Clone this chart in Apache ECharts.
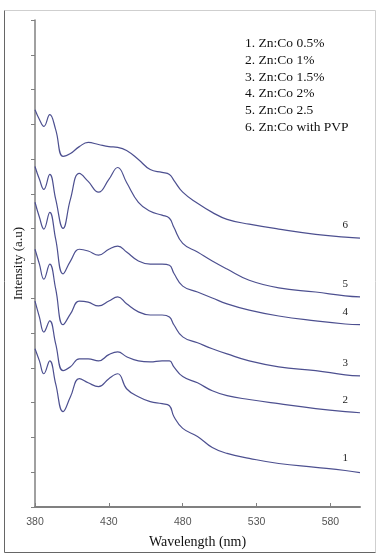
<!DOCTYPE html>
<html>
<head>
<meta charset="utf-8">
<script src="https://cdn.jsdelivr.net/npm/echarts@6/dist/echarts.min.js"></script>
<style>
  html, body { margin: 0; padding: 0; background: #fff; }
  #chart { width: 384px; height: 554px; }
</style>
</head>
<body>
<div id="chart"></div>
<script>
// wavelength grid (nm) shared by all spectra
const wavelength = [380, 383, 386, 390, 394, 399, 404, 410, 416, 423, 430, 436, 442, 450,
  458, 466, 471, 474, 480, 490, 500, 510, 525, 545, 570, 590, 600];

// intensity (a.u.), curves stacked with offsets
const curve1 = [4.55, 4.20, 3.83, 4.20, 3.54, 2.74, 3.17, 3.69, 3.57, 3.46, 3.69, 3.83, 3.40, 3.17,
  3.03, 2.97, 2.91, 2.60, 2.26, 2.03, 1.71, 1.54, 1.40, 1.25, 1.14, 1.05, 0.99];
const curve2 = [5.92, 5.46, 5.03, 5.35, 4.69, 3.92, 4.03, 4.26, 4.26, 4.20, 4.38, 4.46, 4.32, 4.20,
  4.17, 4.20, 4.20, 4.03, 3.75, 3.57, 3.34, 3.20, 3.09, 2.97, 2.83, 2.74, 2.71];
const curve3 = [7.41, 6.98, 6.55, 6.98, 6.27, 5.24, 5.55, 5.92, 5.89, 5.78, 5.92, 6.04, 5.84, 5.61,
  5.52, 5.52, 5.46, 5.24, 4.89, 4.72, 4.55, 4.40, 4.20, 4.03, 3.92, 3.80, 3.77];
const curve4 = [8.76, 8.33, 7.99, 8.47, 7.70, 6.70, 7.07, 7.41, 7.36, 7.24, 7.41, 7.50, 7.33, 7.07,
  6.98, 6.98, 6.95, 6.72, 6.35, 6.18, 6.01, 5.84, 5.66, 5.49, 5.35, 5.26, 5.24];
const curve5 = [9.79, 9.42, 9.13, 9.56, 8.85, 8.01, 8.85, 9.59, 9.36, 9.05, 9.42, 9.76, 9.33, 8.76,
  8.50, 8.39, 8.30, 8.04, 7.58, 7.33, 7.07, 6.84, 6.52, 6.30, 6.18, 6.07, 6.04];
const curve6 = [11.42, 11.14, 10.94, 11.28, 10.85, 10.08, 10.16, 10.36, 10.48, 10.42, 10.36, 10.34, 10.25, 9.99,
  9.70, 9.62, 9.56, 9.39, 9.05, 8.73, 8.47, 8.27, 8.13, 7.99, 7.84, 7.76, 7.73];

const curves = [curve1, curve2, curve3, curve4, curve5, curve6];
const curveLabels = ["1", "2", "3", "4", "5", "6"];
const legendLines = [
  "1. Zn:Co 0.5%",
  "2. Zn:Co 1%",
  "3. Zn:Co 1.5%",
  "4. Zn:Co 2%",
  "5. Zn:Co 2.5",
  "6. Zn:Co with PVP"
];
const labelAt = 590; // wavelength where curve numbers sit

const serif = "'Liberation Serif', 'DejaVu Serif', serif";
const lineColor = "#4d5090";

const chart = echarts.init(document.getElementById("chart"));

const series = curves.map((vals, k) => ({
  type: "line",
  data: wavelength.map((w, i) => [w, vals[i]]),
  showSymbol: false,
  smooth: 0.45,
  lineStyle: { color: lineColor, width: 1.2 },
  markPoint: {
    symbol: "circle",
    symbolSize: 1,
    itemStyle: { color: "rgba(0,0,0,0)" },
    label: {
      show: true,
      position: "top",
      distance: 6,
      formatter: curveLabels[k],
      color: "#222",
      fontFamily: serif,
      fontSize: 11
    },
    data: [{ coord: [labelAt, vals[wavelength.indexOf(labelAt)]] }]
  }
}));

const option = {
  animation: false,
  backgroundColor: "#fff",
  grid: { left: 35, top: 20, width: 325, bottom: 45.3 },
  xAxis: {
    type: "value",
    min: 380,
    max: 600,
    interval: 50,
    name: "Wavelength (nm)",
    nameLocation: "middle",
    nameGap: 28,
    nameTextStyle: { fontFamily: serif, fontSize: 14, color: "#111" },
    axisLine: { lineStyle: { color: "#808080", width: 2 } },
    axisTick: { inside: true, length: 4, lineStyle: { color: "#808080" } },
    axisLabel: { showMaxLabel: false, color: "#555", fontFamily: "'Liberation Sans', Arial, sans-serif", fontSize: 10.5, margin: 10 },
    splitLine: { show: false }
  },
  yAxis: {
    type: "value",
    min: 0,
    max: 14,
    interval: 1,
    name: "Intensity (a.u)",
    nameLocation: "middle",
    nameGap: 10,
    nameTextStyle: { fontFamily: serif, fontSize: 13, color: "#111" },
    axisLine: { show: true, lineStyle: { color: "#808080", width: 1.5 } },
    axisTick: { show: true, length: 4, lineStyle: { color: "#808080" } },
    axisLabel: { show: false },
    splitLine: { show: false }
  },
  graphic: [
    { type: "line", shape: { x1: 4.5, y1: 10.5, x2: 375.5, y2: 10.5 }, style: { stroke: "#cfcfcf", lineWidth: 1 } },
    { type: "line", shape: { x1: 375.5, y1: 10.5, x2: 375.5, y2: 552.5 }, style: { stroke: "#cfcfcf", lineWidth: 1 } },
    { type: "line", shape: { x1: 4.5, y1: 10.5, x2: 4.5, y2: 552.5 }, style: { stroke: "#666", lineWidth: 1 } },
    { type: "line", shape: { x1: 4.5, y1: 552.5, x2: 375.5, y2: 552.5 }, style: { stroke: "#666", lineWidth: 1 } },
    {
      type: "text",
      left: 245,
      top: 35,
      style: {
        text: legendLines.join("\n"),
        fontFamily: serif,
        fontSize: 13.5,
        lineHeight: 16.8,
        fill: "#111"
      }
    }
  ],
  series: series
};

chart.setOption(option);
</script>
</body>
</html>
